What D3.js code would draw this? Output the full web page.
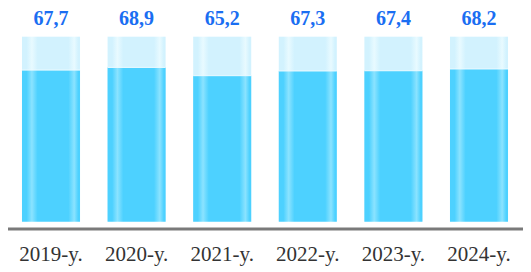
<!DOCTYPE html>
<html>
<head>
<meta charset="utf-8">
<script src="https://cdn.jsdelivr.net/npm/d3@7"></script>
<style>
  body { margin: 0; background: #fff; }
  text { font-family: "Liberation Serif", "Times New Roman", "DejaVu Serif", serif; }
</style>
</head>
<body>
<script>
// data
var years = ["2019-y.", "2020-y.", "2021-y.", "2022-y.", "2023-y.", "2024-y."];
var values = [67.7, 68.9, 65.2, 67.3, 67.4, 68.2];
var labels = ["67,7", "68,9", "65,2", "67,3", "67,4", "68,2"];
var backMax = 82.6;

var width = 531, height = 272;
var serif = "'Liberation Serif', 'Times New Roman', 'DejaVu Serif', serif";

var svg = d3.select("body").append("svg")
    .attr("width", width)
    .attr("height", height);

// gradients for the glassy look
var defs = svg.append("defs");
function stripes(id, base, light) {
  var g = defs.append("linearGradient").attr("id", id)
      .attr("x1", "0%").attr("x2", "100%").attr("y1", "0%").attr("y2", "0%");
  [[0, base], [0.08, base], [0.17, light], [0.27, base], [0.8, base], [0.9, light], [0.97, base], [1, base]]
    .forEach(function(s) {
      g.append("stop").attr("offset", s[0]).attr("stop-color", s[1]);
    });
}
stripes("bgGrad", "#d2f2fe", "#e8faff");
stripes("barGrad", "#4dd1ff", "#8be3ff");

// scales
var x = d3.scaleBand().domain(years).range([8.2, 521.8]).paddingInner(0.322).paddingOuter(0.161);
var y = d3.scaleLinear().domain([0, backMax]).range([221.7, 36.7]);

var g = svg.append("g");

// background bars
g.selectAll(".back")
    .data(years)
  .enter().append("rect")
    .attr("class", "back")
    .attr("x", function(d) { return x(d); })
    .attr("width", x.bandwidth())
    .attr("y", y(backMax))
    .attr("height", y(0) - y(backMax))
    .attr("fill", "url(#bgGrad)");

// value bars
g.selectAll(".bar")
    .data(values)
  .enter().append("rect")
    .attr("class", "bar")
    .attr("x", function(d, i) { return x(years[i]); })
    .attr("width", x.bandwidth())
    .attr("y", function(d) { return y(d); })
    .attr("height", function(d) { return y(0) - y(d); })
    .attr("fill", "url(#barGrad)");

// thin highlight on top of each bar
g.selectAll(".edge")
    .data(values)
  .enter().append("rect")
    .attr("x", function(d, i) { return x(years[i]); })
    .attr("width", x.bandwidth())
    .attr("y", function(d) { return y(d) - 0.5; })
    .attr("height", 1)
    .attr("fill", "#eefbff");

// value labels
g.selectAll(".val")
    .data(labels)
  .enter().append("text")
    .attr("x", function(d, i) { return x(years[i]) + x.bandwidth() / 2; })
    .attr("y", 25)
    .attr("text-anchor", "middle")
    .attr("font-family", serif)
    .style("font-weight", "bold")
    .style("font-size", "20px")
    .style("fill", "#1a6ef2")
    .text(function(d) { return d; });

// baseline
g.append("line")
    .attr("x1", 8).attr("x2", 523)
    .attr("y1", 229).attr("y2", 229)
    .attr("stroke", "#7a7a7a")
    .attr("stroke-width", 3);

// x axis labels
var xAxis = g.append("g")
    .attr("transform", "translate(0,229)")
    .call(d3.axisBottom(x).tickSize(0).tickPadding(17));
xAxis.attr("font-family", serif);
xAxis.select(".domain").remove();
xAxis.selectAll("text")
    .style("font-size", "21px")
    .style("fill", "#333");
</script>
</body>
</html>
